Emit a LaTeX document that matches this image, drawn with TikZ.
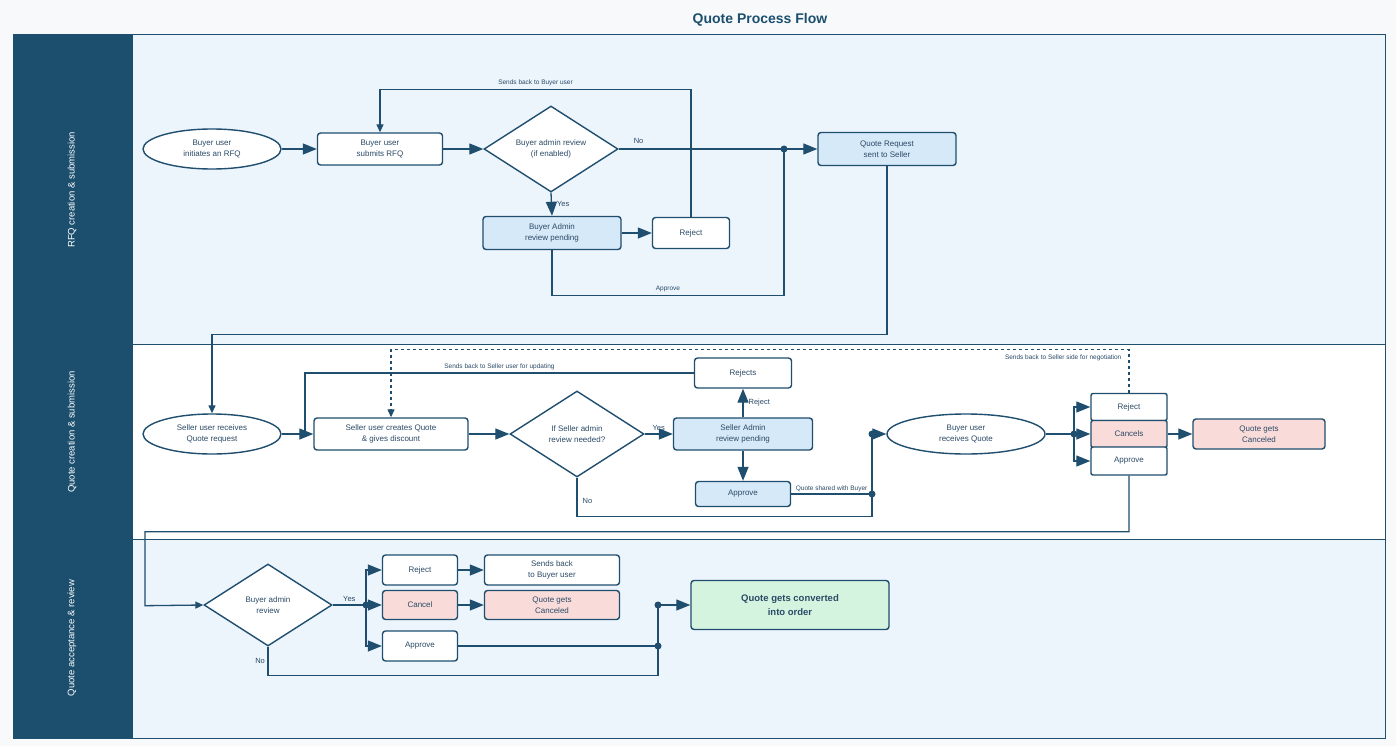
\documentclass[tikz,border=0pt]{standalone}
\usepackage{fontspec}
\setmainfont{Liberation Sans}
\usetikzlibrary{positioning, arrows.meta, shapes.geometric, backgrounds}
\definecolor{navyc}{RGB}{28,79,110}
\definecolor{linec}{RGB}{31,78,110}
\definecolor{textc}{RGB}{43,74,102}
\definecolor{lanec}{RGB}{236,244,252}
\definecolor{pagec}{RGB}{247,249,251}
\definecolor{bluec}{RGB}{214,233,248}
\definecolor{pinkc}{RGB}{249,220,218}
\definecolor{greenc}{RGB}{212,244,224}

\begin{document}
\begin{tikzpicture}[x=1pt, y=-1pt,
  every node/.style={font=\fontsize{8}{11.5}\selectfont, text=textc},
  box/.style={draw=linec, line width=1.4pt, rounded corners=3pt, fill=white, align=center, inner sep=0pt},
  bluebox/.style={box, fill=bluec},
  pinkbox/.style={box, fill=pinkc},
  oval/.style={ellipse, draw=linec, line width=1.4pt, fill=white, align=center, inner sep=0pt},
  decision/.style={diamond, aspect=1.6, draw=linec, line width=1.4pt, fill=white, align=center, inner sep=0pt},
  dotc/.style={circle, fill=linec, inner sep=0pt, minimum size=7pt},
  conn/.style={draw=linec, line width=1.3pt},
  arr/.style={conn, -{Triangle[length=14pt, width=11pt]}},
  sarr/.style={conn, -{Triangle[length=8pt, width=7pt]}},
  lbl/.style={font=\fontsize{7.5}{9}\selectfont, inner sep=2pt},
  slbl/.style={font=\fontsize{6.5}{8}\selectfont, inner sep=2pt},
  lanetxt/.style={font=\fontsize{9.5}{11}\selectfont, text=white, rotate=90}]

\useasboundingbox (0,0) rectangle (1396,746);
\fill[pagec] (0,0) rectangle (1396,746);

\newcommand{\swimlane}[6]{%
  \fill[#3] (133,#1) rectangle (1385,#2);
  \fill[navyc] (13,#1) rectangle (133,#2);
  \draw[linec, line width=0.9pt] (13,#1) rectangle (1385,#2);
  \node[lanetxt] (#5) at (72,#4) {#6};
}

\node[font=\fontsize{14}{16}\selectfont\bfseries, text=navyc] (title) at (760,20) {Quote Process Flow};

% lanes: top, bottom, fill, label y
\swimlane{34}{344}{lanec}{190}{laneA}{RFQ creation \& submission}
\swimlane{344}{539}{white}{432}{laneB}{Quote creation \& submission}
\swimlane{539}{738}{lanec}{638}{laneC}{Quote acceptance \& review}

% lane 1
\node[oval, minimum width=138pt, minimum height=40pt] (binit) at (212,149) {Buyer user\\initiates an RFQ};
\node[box, minimum width=125pt, minimum height=32pt] (bsubmit) at (380,149) {Buyer user\\submits RFQ};
\node[decision, minimum width=134pt, minimum height=86pt] (bdec) at (551,149) {Buyer admin review\\(if enabled)};
\node[bluebox, minimum width=138pt, minimum height=33pt] (bpend) at (552,233) {Buyer Admin\\review pending};
\node[box, minimum width=77pt, minimum height=31pt] (brej) at (691,233) {Reject};
\node[bluebox, minimum width=138pt, minimum height=33pt] (qreq) at (887,149) {Quote Request\\sent to Seller};
\node[dotc] (dotA) at (784,149) {};

\draw[arr] (binit.east) -- (bsubmit.west);
\draw[arr] (bsubmit.east) -- (bdec.west);
\draw[conn] (bdec.east) -- node[lbl, pos=0.12, above=3pt] {No} (dotA.center);
\draw[arr] (dotA.center) -- (qreq.west);
\draw[arr] (bdec.south) -- node[lbl, right=3pt] {Yes} (bpend.north);
\draw[arr] (bpend.east) -- (brej.west);
\draw[sarr] (brej.north) -- ++(0,-127) -| node[slbl, pos=0.25, above=1pt] {Sends back to Buyer user} (bsubmit.north);
\draw[conn] (bpend.south) -- ++(0,45) -| node[slbl, pos=0.25, above=1pt] {Approve} (dotA.center);

% lane 2
\node[oval, minimum width=138pt, minimum height=40pt] (srecv) at (212,434) {Seller user receives\\Quote request};
\node[box, minimum width=154pt, minimum height=32pt] (screate) at (391,434) {Seller user creates Quote\\\& gives discount};
\node[decision, minimum width=134pt, minimum height=86pt] (sdec) at (577,434) {If Seller admin\\review needed?};
\node[bluebox, minimum width=139pt, minimum height=32pt] (spend) at (743,434) {Seller Admin\\review pending};
\node[box, minimum width=97pt, minimum height=30pt] (srej) at (743,373) {Rejects};
\node[bluebox, minimum width=95pt, minimum height=25pt] (sappr) at (743,494) {Approve};
\node[oval, minimum width=158pt, minimum height=40pt] (brecv) at (966,434) {Buyer user\\receives Quote};
\node[box, rounded corners=2pt, minimum width=76pt, minimum height=27pt] (nrej) at (1129,407) {Reject};
\node[pinkbox, rounded corners=2pt, minimum width=76pt, minimum height=27pt] (ncan) at (1129,434) {Cancels};
\node[box, rounded corners=2pt, minimum width=76pt, minimum height=28pt] (napp) at (1129,461) {Approve};
\node[pinkbox, minimum width=132pt, minimum height=30pt] (ncanned) at (1259,434) {Quote gets\\Canceled};
\node[dotc] (dotB) at (872,494) {};
\node[dotc] (dotC) at (872,434) {};
\node[dotc] (dotD) at (1074,434) {};
\coordinate (joinB) at (305,434);

\draw[sarr] (qreq.south) -- ++(0,168) -| (srecv.north);
\draw[arr] (srecv.east) -- (screate.west);
\draw[arr] (screate.east) -- (sdec.west);
\draw[arr] (sdec.east) -- node[lbl, above=1pt] {Yes} (spend.west);
\draw[arr] (spend.north) -- node[lbl, right=3pt] {Reject} (srej.south);
\draw[arr] (spend.south) -- (sappr.north);
\draw[conn] (srej.west) -| node[slbl, pos=0.25, above=1pt] {Sends back to Seller user for updating} (joinB);
\draw[conn] (sdec.south) -- node[lbl, pos=0.6, right=3pt] {No} ++(0,39) -| (dotC.center);
\draw[conn] (sappr.east) -- node[slbl, above=0pt] {Quote shared with Buyer} (dotB.center);
\draw[arr] (dotC.center) -- (brecv.west);
\draw[conn] (brecv.east) -- (dotD.center);
\draw[arr] (dotD.center) |- (nrej.west);
\draw[arr] (dotD.center) -- (ncan.west);
\draw[arr] (dotD.center) |- (napp.west);
\draw[arr] (ncan.east) -- (ncanned.west);
\draw[sarr, dashed] (nrej.north) -- ++(0,-43) -| node[slbl, pos=0, anchor=north east, xshift=-5pt, yshift=-2pt] {Sends back to Seller side for negotiation} (screate.north);

% lane 3
\node[decision, minimum width=128pt, minimum height=82pt] (qdec) at (268,605) {Buyer admin\\review};
\node[box, minimum width=75pt, minimum height=30pt] (qrej) at (420,570) {Reject};
\node[pinkbox, minimum width=75pt, minimum height=29pt] (qcan) at (420,605) {Cancel};
\node[box, minimum width=75pt, minimum height=30pt] (qapp) at (420,646) {Approve};
\node[box, minimum width=135pt, minimum height=30pt] (qsend) at (552,570) {Sends back\\to Buyer user};
\node[pinkbox, minimum width=135pt, minimum height=29pt] (qcanned) at (552,605) {Quote gets\\Canceled};
\node[box, fill=greenc, minimum width=198pt, minimum height=49pt, font=\fontsize{9.5}{14}\selectfont\bfseries] (qorder) at (790,605) {Quote gets converted\\into order};
\node[dotc] (dotE) at (366,605) {};
\node[dotc] (dotF) at (658,605) {};
\node[dotc] (dotG) at (658,646) {};

\draw[sarr] (napp.south) -- ++(0,56) -| ++(-984,74) -- (qdec.west);
\draw[conn] (qdec.east) -- node[lbl, above=1pt] {Yes} (dotE.center);
\draw[arr] (dotE.center) |- (qrej.west);
\draw[arr] (dotE.center) -- (qcan.west);
\draw[arr] (dotE.center) |- (qapp.west);
\draw[arr] (qrej.east) -- (qsend.west);
\draw[arr] (qcan.east) -- (qcanned.west);
\draw[conn] (qapp.east) -- (dotG.center);
\draw[conn] (qdec.south) -- node[lbl, left=0.5pt, pos=0.5] {No} ++(0,29) -| (dotF.center);
\draw[arr] (dotF.center) -- (qorder.west);
\end{tikzpicture}
\end{document}
